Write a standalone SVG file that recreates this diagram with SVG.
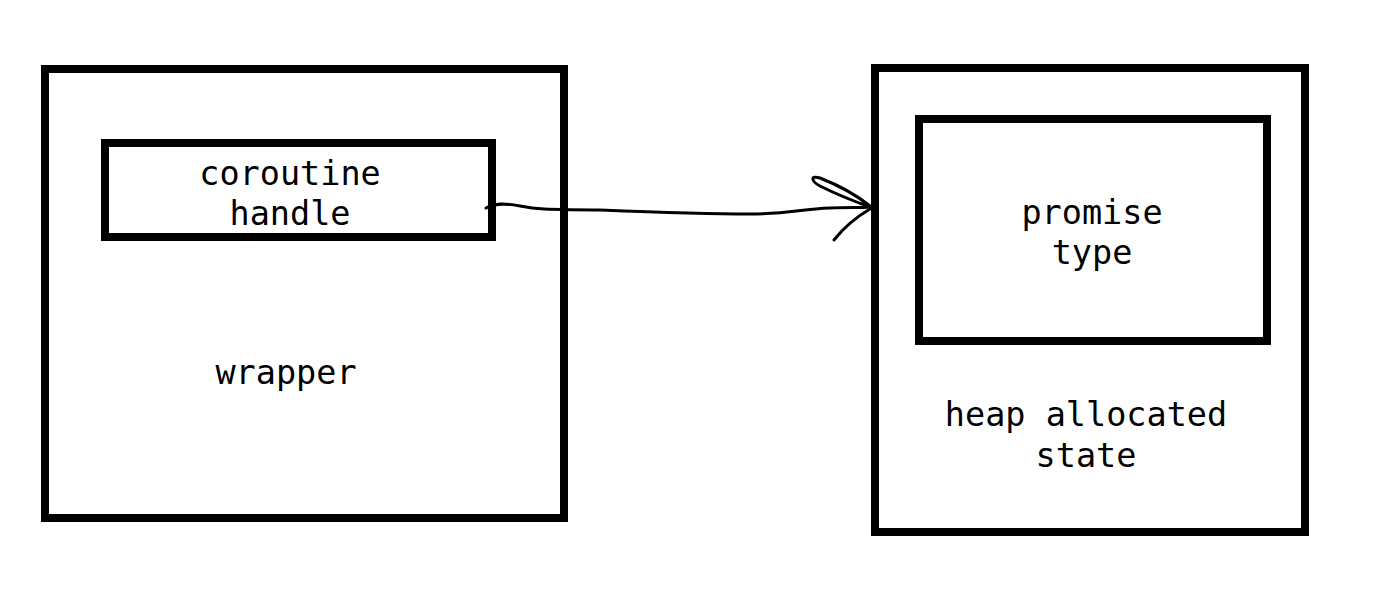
<svg xmlns="http://www.w3.org/2000/svg" width="1373" height="605" viewBox="0 0 1373 605">
<style>
.box{fill:none;stroke:#000;stroke-width:8}
.t{font-family:"DejaVu Sans Mono","Liberation Mono",monospace;font-size:33.5px;fill:#000;text-anchor:middle}
.c{fill:none;stroke:#000;stroke-width:3;stroke-linecap:round;stroke-linejoin:round}
</style>
<rect width="1373" height="605" fill="#fff"/>
<g id="wrapper">
<rect class="box" x="45" y="69" width="519" height="449"/>
<text class="t" x="286" y="384">wrapper</text>
</g>
<g id="handle">
<rect class="box" x="105" y="143" width="387" height="94"/>
<text class="t" x="290" y="185">coroutine</text>
<text class="t" x="290" y="225">handle</text>
</g>
<g id="state">
<rect class="box" x="875" y="68" width="430" height="464"/>
<text class="t" x="1086" y="426">heap allocated</text>
<text class="t" x="1086" y="467">state</text>
</g>
<g id="promise">
<rect class="box" x="919" y="119" width="348" height="222"/>
<text class="t" x="1092" y="224">promise</text>
<text class="t" x="1092" y="264">type</text>
</g>
<g id="connectors">
<path class="c" d="M486,208 C495,203 505,203 520,206 C545,211 560,209 600,210 C650,212 700,214 750,214 C790,214 800,209 830,208 C850,207 860,208 870,207"/>
<path class="c" d="M870,206 C855,194 838,185 820,178 C810,175 811,181 820,186 C838,195 856,202 870,207"/>
<path class="c" d="M870,209 C858,216 845,226 834,240"/>
</g>
</svg>
